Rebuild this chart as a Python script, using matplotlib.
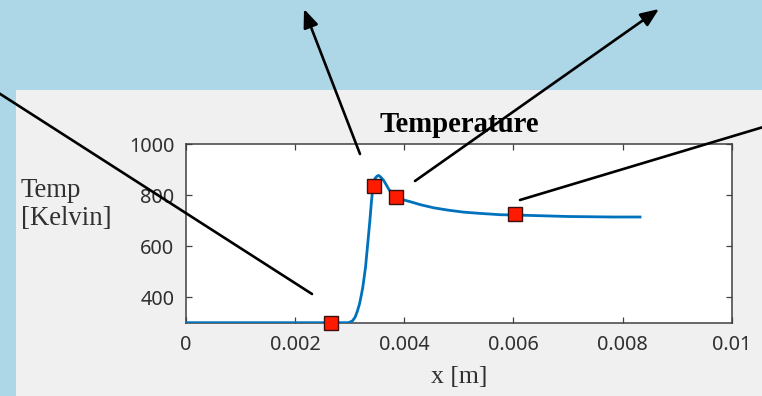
import matplotlib
matplotlib.use("Agg")
import matplotlib.pyplot as plt
from matplotlib.patches import Rectangle, FancyArrowPatch, ArrowStyle

# temperature profile along x (m)
x_m = [0.0, 0.00260, 0.00298, 0.00305, 0.00310, 0.00314, 0.00318, 0.00321,
       0.00324, 0.00329, 0.00333, 0.00337, 0.00340, 0.00343, 0.00346, 0.00350,
       0.00353, 0.00357, 0.00362, 0.00367, 0.00371, 0.00377, 0.00384, 0.00395,
       0.00411, 0.00430, 0.00454, 0.00480, 0.00509, 0.00540, 0.00576, 0.00600,
       0.00650, 0.00700, 0.00784, 0.00832]
temp_K = [300, 300, 300, 307, 322, 345, 374, 405,
          439, 518, 609, 701, 779, 838, 864, 874,
          877, 870, 858, 840, 825, 806, 792, 783,
          774, 762, 750, 741, 733, 728, 723, 722,
          719, 716, 714, 714]

# highlighted sample points
x_pts = [0.00266, 0.00345, 0.00384, 0.00602]
temp_pts = [297, 835, 791, 724]

xticks = [0, 0.002, 0.004, 0.006, 0.008, 0.01]
xtick_labels = ["0", "0.002", "0.004", "0.006", "0.008", "0.01"]
yticks = [400, 600, 800, 1000]

W, H = 762, 396
fig = plt.figure(figsize=(W / 100, H / 100), dpi=100)
fig.patch.set_facecolor("#add6e6")

# grey window panel
fig.add_artist(Rectangle((16 / W, 0), 1, 1 - 90 / H, transform=fig.transFigure,
                         facecolor="#f0f0f0", edgecolor="none", zorder=0))

ax = fig.add_axes([186 / W, 1 - 322.7 / H, 545.7 / W, 178.7 / H])
ax.set_zorder(1)
ax.set_facecolor("white")

ax.plot(x_m, temp_K, color="#0072bd", lw=2.0, zorder=3, solid_joinstyle="round")
ax.plot(x_pts, temp_pts, ls="none", marker="s", ms=9.8,
        mfc="#ff1a00", mec="#3a1010", mew=1.0, zorder=4, clip_on=False)

ax.set_xlim(0, 0.01)
ax.set_ylim(300, 1000)
ax.set_xticks(xticks)
ax.set_xticklabels(xtick_labels)
ax.set_yticks(yticks)

axis_col = "#404040"
for s in ax.spines.values():
    s.set_color(axis_col)
    s.set_linewidth(1.1)
ax.tick_params(direction="in", top=True, right=True, length=4, width=0.9,
               color=axis_col, labelcolor="#303030", labelsize=14.3, pad=8.5)
for lab in ax.get_xticklabels() + ax.get_yticklabels():
    lab.set_family("Noto Sans")

ax.set_title("Temperature", family="Liberation Serif", fontweight="bold",
             fontsize=20.7, pad=8.5)

fig.text(458.9 / W, 1 - 383 / H, "x [m]", family="Liberation Serif",
         fontsize=18.5, ha="center", va="baseline", color="#303030")
fig.text(21 / W, 1 - 196.7 / H, "Temp", family="Liberation Serif",
         fontsize=19.3, ha="left", va="baseline", color="#303030")
fig.text(21 / W, 1 - 225 / H, "[Kelvin]", family="Liberation Serif",
         fontsize=19.3, ha="left", va="baseline", color="#303030")


def fpos(px, py):
    return (px / W, 1 - py / H)


head = ArrowStyle("-|>", head_length=11, head_width=4.5)
pointers = [
    ((360, 154), (304, 9), True),
    ((415, 181), (659, 9), True),
    ((312, 294), (-6, 90), False),
    ((520, 200), (770, 125), False),
]
for tail, tip, has_head in pointers:
    arr = FancyArrowPatch(fpos(*tail), fpos(*tip), transform=fig.transFigure,
                          arrowstyle=head if has_head else "-", mutation_scale=1,
                          color="black", lw=1.9, shrinkA=0, shrinkB=0, zorder=10)
    fig.add_artist(arr)

fig.savefig("out.png", dpi=100, facecolor=fig.get_facecolor())
